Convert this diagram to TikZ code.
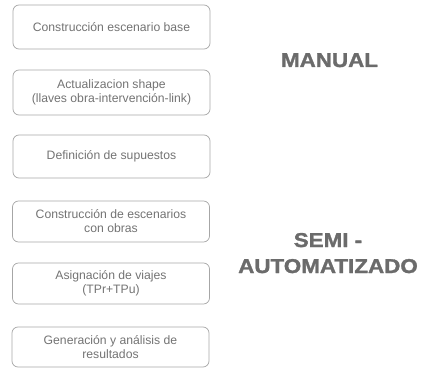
\documentclass[tikz,border=0pt]{standalone}
\usepackage{fontspec}
\usepackage{tikz}
\usetikzlibrary{positioning}
\newfontfamily\arialfont{Liberation Sans}
\newfontfamily\arialwide[FakeStretch=1.12,FakeBold=1.5]{Liberation Sans}

\tikzset{
  etapa/.style={draw=black!35,line width=0.7pt,rounded corners=6pt,minimum width=197pt,
    align=center,text=black!55,font=\arialfont\fontsize{12.2}{14}\selectfont,inner sep=0pt},
  modo/.style={text=black!58,align=center,font=\arialwide\bfseries\fontsize{20}{26}\selectfont}
}

\begin{document}
\begin{tikzpicture}[x=1pt,y=-1pt]
  \useasboundingbox (0,0) rectangle (424,369);

  %etapas
  \node[etapa,minimum height=44pt] (base) at (111.5,27) {Construcción escenario base};
  \node[etapa,minimum height=45pt] (shape) at (111.5,92.5) {Actualizacion shape\\(llaves obra-intervención-link)};
  \node[etapa,minimum height=43pt] (supuestos) at (111.5,156.5) {Definición de supuestos};
  \node[etapa,minimum height=41pt] (obras) at (111,221.5) {Construcción de escenarios\\con obras};
  \node[etapa,minimum height=41pt] (viajes) at (111,283.5) {Asignación de viajes\\(TPr+TPu)};
  \node[etapa,minimum height=40pt] (resultados) at (110.5,347) {Generación y análisis de\\resultados};

  %modos
  \node[modo,anchor=base] (manual) at (329.5,67) {MANUAL};
  \node[modo,anchor=base] (semiauto) at (328,273) {SEMI -\\AUTOMATIZADO};
\end{tikzpicture}
\end{document}
